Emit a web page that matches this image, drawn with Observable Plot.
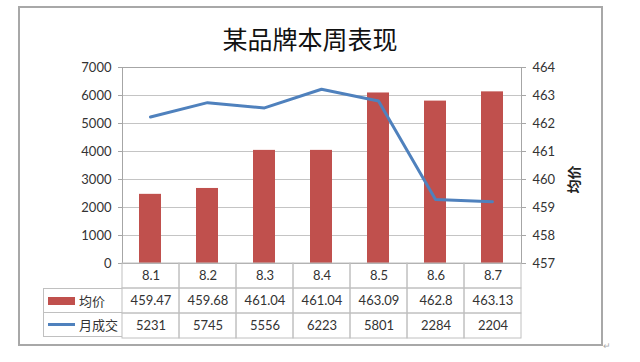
<!DOCTYPE html>
<html>
<head>
<meta charset="utf-8">
<script src="https://cdn.jsdelivr.net/npm/d3@7"></script>
<script src="https://cdn.jsdelivr.net/npm/@observablehq/plot@0.6"></script>
<style>
  html, body { margin: 0; padding: 0; background: #fff; }
  #wrap { position: relative; width: 640px; height: 362px; overflow: hidden; background: #fff;
          font-family: Lato, "Noto Sans CJK SC", sans-serif; }
  #border { position: absolute; left: 18px; top: 6px; width: 581px; height: 336px; border: 2px solid #a8a8a8; }
  #title { position: absolute; left: 19px; width: 582px; top: 22px; text-align: center;
           font-family: "Noto Sans CJK SC", sans-serif; font-size: 25px; color: #111; line-height: 32px; }
  #chart { position: absolute; left: 0; top: 0; }
  #table { position: absolute; left: 0; top: 262px; }
  #legend { position: absolute; left: 43px; top: 288px; width: 79px; }
  #legend div { height: 25px; box-sizing: border-box; border: 1px solid #c0c0c0; border-right: none; margin-top: -1px;
                display: flex; align-items: center; font-family: "Noto Sans CJK SC", sans-serif; font-size: 13px; color: #333; }
  #legend div:first-child { margin-top: 0; }
  .sw-bar { display: inline-block; width: 27px; height: 8px; background: #C0504D; margin: 0 4px 0 4px; }
  .sw-line { display: inline-block; width: 27px; height: 3px; background: #4F81BD; margin: 0 4px 0 4px; }
  #mark { position: absolute; left: 603px; top: 340px; font-size: 9px; color: #aaa; }
</style>
</head>
<body>
<div id="wrap">
  <div id="border"></div>
  <div id="title"></div>
  <div id="chart"></div>
  <div id="table"></div>
  <div id="legend"></div>
  <div id="mark">↵</div>
</div>
<script>
// ---- data ----
const titleText = "某品牌本周表现";
const categories = ["8.1", "8.2", "8.3", "8.4", "8.5", "8.6", "8.7"];
const avgPrice = [459.47, 459.68, 461.04, 461.04, 463.09, 462.8, 463.13];   // 均价 (right axis, bars)
const monthlyDeals = [5231, 5745, 5556, 6223, 5801, 2284, 2204];           // 月成交 (left axis, line)
const leftTicks = [0, 1000, 2000, 3000, 4000, 5000, 6000, 7000];
const rightTicks = [457, 458, 459, 460, 461, 462, 463, 464];
const seriesNames = ["均价", "月成交"];
const rightAxisTitle = "均价";

// right axis mapped onto left scale
const rMin = rightTicks[0], rMax = rightTicks[rightTicks.length - 1];
const lMax = leftTicks[leftTicks.length - 1];
const toLeft = v => (v - rMin) / (rMax - rMin) * lMax;

const rows = categories.map((c, i) => ({cat: c, price: avgPrice[i], deals: monthlyDeals[i], priceY: toLeft(avgPrice[i])}));

document.getElementById("title").textContent = titleText;

const font = "Lato, 'Noto Sans CJK SC', sans-serif";

const chart = Plot.plot({
  width: 640,
  height: 270,
  marginLeft: 122,
  marginRight: 119,
  marginTop: 67,
  marginBottom: 7,
  style: {fontFamily: font, fontSize: "13px", color: "#333", background: "transparent"},
  x: {type: "band", domain: categories, paddingInner: 0.614, paddingOuter: 0.307, axis: null},
  y: {domain: [0, lMax]},
  marks: [
    Plot.gridY(leftTicks, {stroke: "#c4c4c4", strokeOpacity: 1}),
    Plot.frame({stroke: "#a6a6a6"}),
    Plot.axisY(leftTicks, {anchor: "left", tickSize: 4, tickPadding: 7, stroke: "#a6a6a6", label: null, tickFormat: d => String(d)}),
    Plot.axisY(rightTicks.map(toLeft), {anchor: "right", tickSize: 4, tickPadding: 7, stroke: "#a6a6a6", label: null,
      tickFormat: d => String(Math.round(rMin + d / lMax * (rMax - rMin)))}),
    Plot.barY(rows, {x: "cat", y1: 0, y2: "priceY", fill: "#C0504D"}),
    Plot.line(rows, {x: "cat", y: "deals", stroke: "#4F81BD", strokeWidth: 3, strokeLinejoin: "round"}),
    Plot.text([rightAxisTitle], {frameAnchor: "right", dx: 53, rotate: -90, fontWeight: "bold", fontSize: 14,
      fontFamily: "'Noto Sans CJK SC', sans-serif", fill: "#222"})
  ]
});
document.getElementById("chart").appendChild(chart);

// data table under the chart
const rowKeys = ["cat", seriesNames[0], seriesNames[1]];
const cells = [];
rows.forEach(r => {
  cells.push({cat: r.cat, row: "cat", text: r.cat});
  cells.push({cat: r.cat, row: seriesNames[0], text: String(r.price)});
  cells.push({cat: r.cat, row: seriesNames[1], text: String(r.deals)});
});

const table = Plot.plot({
  width: 640,
  height: 77,
  marginLeft: 122,
  marginRight: 119,
  marginTop: 1,
  marginBottom: 1,
  style: {fontFamily: font, fontSize: "13px", color: "#333", background: "transparent"},
  x: {type: "band", domain: categories, padding: 0, axis: null},
  y: {type: "band", domain: rowKeys, padding: 0, axis: null},
  marks: [
    Plot.cell(cells, {x: "cat", y: "row", fill: "none", stroke: "#c0c0c0"}),
    Plot.text(cells, {x: "cat", y: "row", text: "text", fill: "#333", fontSize: 13})
  ]
});
document.getElementById("table").appendChild(table);

// legend column of the table
const legend = document.getElementById("legend");
seriesNames.forEach((name, i) => {
  const d = document.createElement("div");
  const sw = document.createElement("span");
  sw.className = i === 0 ? "sw-bar" : "sw-line";
  d.appendChild(sw);
  d.appendChild(document.createTextNode(name));
  legend.appendChild(d);
});
</script>
</body>
</html>
